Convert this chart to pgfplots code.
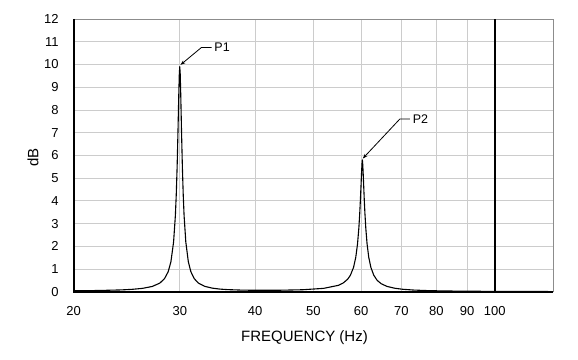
\documentclass[border=0pt]{standalone}
\usepackage{fontspec}
\setmainfont{Liberation Sans}
\usepackage{pgfplots}
\usepackage{pgfplotstable}
\pgfplotsset{compat=1.18}
\usetikzlibrary{arrows.meta}

\pgfplotstableread{
f y
20 0.039
22 0.053
24 0.079
25 0.104
26 0.146
27 0.230
27.8 0.379
28.3 0.574
28.7 0.878
29.0 1.315
29.3 2.191
29.5 3.348
29.6 4.257
29.7 5.496
29.8 7.105
29.85 8.003
29.9 8.874
29.95 9.583
30.0 9.900
30.05 9.584
30.1 8.875
30.15 8.004
30.2 7.106
30.3 5.497
30.4 4.258
30.5 3.349
30.7 2.192
31.0 1.316
31.3 0.881
31.7 0.577
32.2 0.383
33 0.236
34 0.155
35 0.114
36 0.092
38 0.070
40 0.062
44 0.065
48 0.086
52 0.147
55 0.279
56 0.377
57 0.548
57.6 0.721
58.3 1.068
58.8 1.510
59.2 2.103
59.5 2.798
59.7 3.438
59.85 4.029
60.0 4.699
60.1 5.157
60.2 5.565
60.25 5.720
60.3 5.800
60.35 5.720
60.4 5.565
60.5 5.157
60.6 4.699
60.75 4.029
60.9 3.438
61.1 2.798
61.4 2.103
61.8 1.510
62.3 1.068
63.0 0.721
63.8 0.503
64.8 0.351
66.3 0.231
68.3 0.151
70.3 0.108
73.3 0.073
77.3 0.049
82.3 0.033
90.3 0.021
100.3 0.014
125 0.006
}\spectrum

\begin{document}
\begin{tikzpicture}
\useasboundingbox (-73.7pt,-67.3pt) rectangle (504.3pt,291.7pt);
\begin{axis}[
  at={(0pt,0pt)}, anchor=south west,
  scale only axis, width=479.3pt, height=272.7pt,
  xmode=log, xmin=20, xmax=125, ymin=0, ymax=12,
  xtick={20,30,40,50,60,70,80,90,100},
  xticklabels={20,30,40,50,60,70,80,90,100},
  ytick={0,1,...,12},
  minor xtick={},
  major tick length=0pt,
  xmajorgrids, ymajorgrids,
  grid style={draw=black!20, line width=0.8pt},
  axis line style={draw=black!45, line width=0.8pt},
  tick label style={font=\fontsize{13}{15}\selectfont},
  xticklabel style={yshift=-11pt},
  yticklabel style={xshift=-11.5pt},
  /pgf/number format/assume math mode=true,
  xlabel={FREQUENCY (Hz)}, ylabel={dB},
  label style={font=\fontsize{15}{18}\selectfont},
  xlabel style={at={(rel axis cs:0.4815,0)}, anchor=center, yshift=-46pt},
  ylabel style={at={(rel axis cs:0,0.493)}, anchor=center, rotate=0, yshift=40.7pt},
  clip=false,
]
\addplot[black, line width=1.1pt, line join=round] table[x=f, y=y] {\spectrum};
\addplot[black, line width=1.8pt] coordinates {(100,0) (100,12)};
\draw[black, line width=1.8pt] (rel axis cs:0,1) -- (rel axis cs:0,0) -- (rel axis cs:1,0);
\draw[black, line width=0.8pt, -{Stealth[length=5pt,width=3.5pt]}] (axis cs:33.9,10.75) -- (axis cs:32.6,10.75) -- (axis cs:30.08,9.98);
\node[anchor=west, inner sep=1pt, font=\fontsize{12.5}{14}\selectfont] at (axis cs:34.1,10.75) {P1};
\draw[black, line width=0.8pt, -{Stealth[length=5pt,width=3.5pt]}] (axis cs:72.3,7.6) -- (axis cs:69.6,7.6) -- (axis cs:60.4,5.86);
\node[anchor=west, inner sep=1pt, font=\fontsize{12.5}{14}\selectfont] at (axis cs:72.8,7.6) {P2};
\end{axis}
\end{tikzpicture}
\end{document}
